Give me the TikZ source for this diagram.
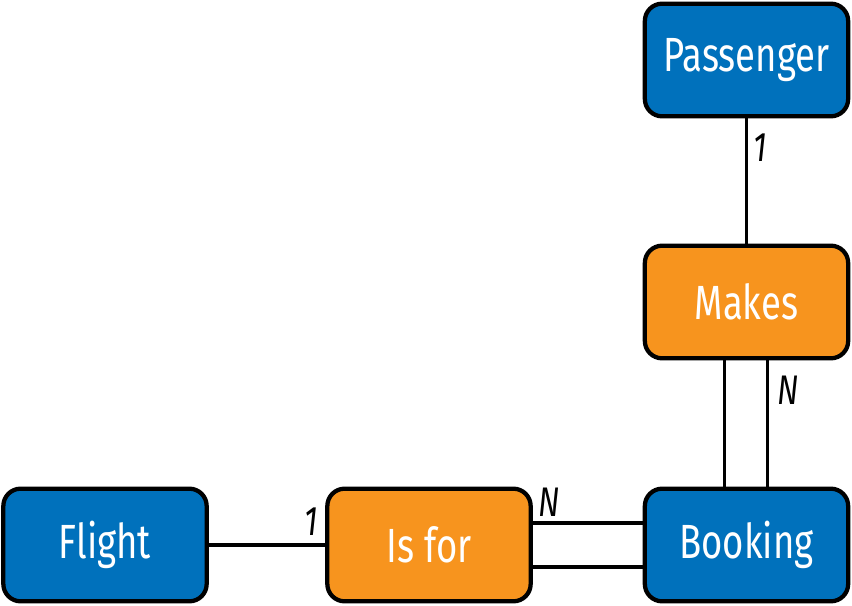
\documentclass[tikz,border=0pt]{standalone}
\usepackage{fontspec}
\setmainfont[FakeStretch=0.76]{Fira Sans}
\definecolor{entblue}{RGB}{0,113,188}
\definecolor{relorange}{RGB}{247,148,30}
\tikzset{
	entity/.style={draw=black, line width=3.2pt, rounded corners=13pt, fill=entblue, text=white,
		minimum width=152.5pt, minimum height=84.5pt, font=\fontsize{36}{40}\selectfont},
	relation/.style={entity, fill=relorange},
	link/.style={line width=2.8pt},
	card/.style={font=\itshape\fontsize{31}{34}\selectfont, inner sep=0pt}
}
\begin{document}
\begin{tikzpicture}[x=0.75pt, y=-0.75pt]
	\useasboundingbox (0,0) rectangle (852,606);
	%% boxes
	\node[entity] (passenger) at (746.5,60) {Passenger};
	\node[relation] (makes) at (746.5,302) {Makes};
	\node[entity] (booking) at (746.5,545) {Booking};
	\node[relation] (isfor) at (429,545) {Is for};
	\node[entity] (flight) at (105,545) {Flight};
	%% connectors
	\draw[link] (passenger) -- (makes);
	\draw[link] ([xshift=-16.5pt]makes.south) -- ([xshift=-16.5pt]booking.north);
	\draw[link] ([xshift=15.75pt]makes.south) -- ([xshift=15.75pt]booking.north);
	\draw[link] ([yshift=16.5pt]isfor.east) -- ([yshift=16.5pt]booking.west);
	\draw[link] ([yshift=-16.5pt]isfor.east) -- ([yshift=-16.5pt]booking.west);
	\draw[link] (flight) -- (isfor);
	%% cardinalities
	\node[card] (c1) at (760,148) {1};
	\node[card] (c2) at (788,390) {N};
	\node[card] (c3) at (549,502) {N};
	\node[card] (c4) at (311,522) {1};
\end{tikzpicture}
\end{document}
